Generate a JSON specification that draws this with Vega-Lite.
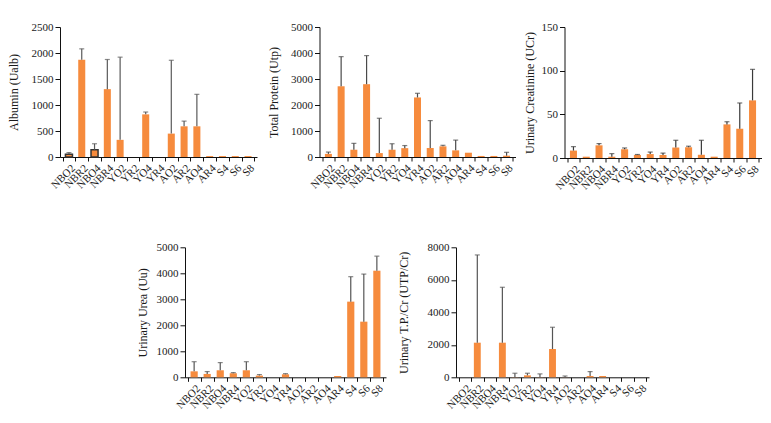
{
  "$schema": "https://vega.github.io/schema/vega-lite/v6.json",
  "padding": {"left": 7, "top": 21, "right": 5, "bottom": 5},
  "background": "white",
  "datasets": {
    "d": [
      {"panel": "alb", "cat": "NBO2", "mean": 55, "hi": 85},
      {"panel": "alb", "cat": "NBR2", "mean": 1870, "hi": 2080},
      {"panel": "alb", "cat": "NBO4", "mean": 140, "hi": 255},
      {"panel": "alb", "cat": "NBR4", "mean": 1305, "hi": 1875},
      {"panel": "alb", "cat": "YO2", "mean": 330, "hi": 1920},
      {"panel": "alb", "cat": "YR2", "mean": 0, "hi": null},
      {"panel": "alb", "cat": "YO4", "mean": 820, "hi": 865},
      {"panel": "alb", "cat": "YR4", "mean": 0, "hi": null},
      {"panel": "alb", "cat": "AO2", "mean": 450, "hi": 1860},
      {"panel": "alb", "cat": "AR2", "mean": 590, "hi": 690},
      {"panel": "alb", "cat": "AO4", "mean": 590, "hi": 1205},
      {"panel": "alb", "cat": "AR4", "mean": 18, "hi": null},
      {"panel": "alb", "cat": "S4", "mean": 18, "hi": null},
      {"panel": "alb", "cat": "S6", "mean": 18, "hi": null},
      {"panel": "alb", "cat": "S8", "mean": 18, "hi": null},
      {"panel": "tp", "cat": "NBO2", "mean": 120, "hi": 190},
      {"panel": "tp", "cat": "NBR2", "mean": 2720, "hi": 3860},
      {"panel": "tp", "cat": "NBO4", "mean": 280, "hi": 525},
      {"panel": "tp", "cat": "NBR4", "mean": 2800, "hi": 3900},
      {"panel": "tp", "cat": "YO2", "mean": 150, "hi": 1490},
      {"panel": "tp", "cat": "YR2", "mean": 280, "hi": 510},
      {"panel": "tp", "cat": "YO4", "mean": 340, "hi": 440},
      {"panel": "tp", "cat": "YR4", "mean": 2290, "hi": 2450},
      {"panel": "tp", "cat": "AO2", "mean": 345, "hi": 1400},
      {"panel": "tp", "cat": "AR2", "mean": 410, "hi": 450},
      {"panel": "tp", "cat": "AO4", "mean": 255, "hi": 650},
      {"panel": "tp", "cat": "AR4", "mean": 165, "hi": null},
      {"panel": "tp", "cat": "S4", "mean": 40, "hi": null},
      {"panel": "tp", "cat": "S6", "mean": 40, "hi": null},
      {"panel": "tp", "cat": "S8", "mean": 50, "hi": 180},
      {"panel": "cr", "cat": "NBO2", "mean": 8.5, "hi": 13},
      {"panel": "cr", "cat": "NBR2", "mean": 1.5, "hi": null},
      {"panel": "cr", "cat": "NBO4", "mean": 14.5, "hi": 16.5},
      {"panel": "cr", "cat": "NBR4", "mean": 1.5, "hi": 5},
      {"panel": "cr", "cat": "YO2", "mean": 10, "hi": 11.5},
      {"panel": "cr", "cat": "YR2", "mean": 3.5, "hi": 4},
      {"panel": "cr", "cat": "YO4", "mean": 4.5, "hi": 6.8},
      {"panel": "cr", "cat": "YR4", "mean": 3.5, "hi": 5.6},
      {"panel": "cr", "cat": "AO2", "mean": 12, "hi": 20.3},
      {"panel": "cr", "cat": "AR2", "mean": 12.3, "hi": 13.5},
      {"panel": "cr", "cat": "AO4", "mean": 3.7, "hi": 20.3},
      {"panel": "cr", "cat": "AR4", "mean": 1.5, "hi": null},
      {"panel": "cr", "cat": "S4", "mean": 38.5, "hi": 41.5},
      {"panel": "cr", "cat": "S6", "mean": 33.5, "hi": 63},
      {"panel": "cr", "cat": "S8", "mean": 66, "hi": 101.5},
      {"panel": "urea", "cat": "NBO2", "mean": 230, "hi": 600},
      {"panel": "urea", "cat": "NBR2", "mean": 130, "hi": 220},
      {"panel": "urea", "cat": "NBO4", "mean": 270, "hi": 565},
      {"panel": "urea", "cat": "NBR4", "mean": 155, "hi": 180},
      {"panel": "urea", "cat": "YO2", "mean": 270, "hi": 600},
      {"panel": "urea", "cat": "YR2", "mean": 65, "hi": 105},
      {"panel": "urea", "cat": "YO4", "mean": 0, "hi": null},
      {"panel": "urea", "cat": "YR4", "mean": 115, "hi": 140},
      {"panel": "urea", "cat": "AO2", "mean": 0, "hi": null},
      {"panel": "urea", "cat": "AR2", "mean": 0, "hi": null},
      {"panel": "urea", "cat": "AO4", "mean": 0, "hi": null},
      {"panel": "urea", "cat": "AR4", "mean": 50, "hi": null},
      {"panel": "urea", "cat": "S4", "mean": 2910, "hi": 3870},
      {"panel": "urea", "cat": "S6", "mean": 2140, "hi": 3970},
      {"panel": "urea", "cat": "S8", "mean": 4100, "hi": 4660},
      {"panel": "tpcr", "cat": "NBO2", "mean": 0, "hi": null},
      {"panel": "tpcr", "cat": "NBR2", "mean": 2130, "hi": 7530},
      {"panel": "tpcr", "cat": "NBO4", "mean": 0, "hi": null},
      {"panel": "tpcr", "cat": "NBR4", "mean": 2130, "hi": 5540},
      {"panel": "tpcr", "cat": "YO2", "mean": 10, "hi": 250},
      {"panel": "tpcr", "cat": "YR2", "mean": 120, "hi": 250},
      {"panel": "tpcr", "cat": "YO4", "mean": 10, "hi": 210},
      {"panel": "tpcr", "cat": "YR4", "mean": 1740, "hi": 3080},
      {"panel": "tpcr", "cat": "AO2", "mean": 5, "hi": 80},
      {"panel": "tpcr", "cat": "AR2", "mean": 0, "hi": null},
      {"panel": "tpcr", "cat": "AO4", "mean": 80, "hi": 350},
      {"panel": "tpcr", "cat": "AR4", "mean": 80, "hi": null},
      {"panel": "tpcr", "cat": "S4", "mean": 0, "hi": null},
      {"panel": "tpcr", "cat": "S6", "mean": 0, "hi": null},
      {"panel": "tpcr", "cat": "S8", "mean": 0, "hi": null}
    ]
  },
  "data": {"name": "d"},
  "bounds": "flush",
  "spacing": 220.3,
  "vconcat": [
    {
      "bounds": "flush",
      "spacing": 62.5,
      "hconcat": [
        {
          "width": 197, "height": 130,
          "transform": [{"filter": "datum.panel === 'alb'"}],
          "encoding": {"x": {"field": "cat", "type": "nominal", "scale": {"domain": ["NBO2","NBR2","NBO4","NBR4","YO2","YR2","YO4","YR4","AO2","AR2","AO4","AR4","S4","S6","S8"], "paddingInner": 0, "paddingOuter": 0.2}, "axis": {"title": null, "labelAngle": -45, "tickBand": "extent"}}},
          "layer": [
            {"mark": {"type": "bar", "color": "#F68B3D", "width": {"band": 0.55}, "strokeWidth": 1.5},
             "encoding": {
               "y": {"field": "mean", "type": "quantitative", "scale": {"domain": [0, 2500], "nice": false}, "axis": {"title": "Albumin (Ualb)", "values": [0, 500, 1000, 1500, 2000, 2500], "titlePadding": 10.5}},
               "stroke": {"condition": {"test": "datum.cat === 'NBO2' || datum.cat === 'NBO4'", "value": "#333333"}, "value": null}
             }},
            {"transform": [{"filter": "isValid(datum.hi)"}], "mark": {"type": "rule", "color": "#5a5a5a", "strokeWidth": 1.2}, "encoding": {"y": {"field": "mean", "type": "quantitative", "axis": {"title": "Albumin (Ualb)", "values": [0, 500, 1000, 1500, 2000, 2500], "titlePadding": 10.5}}, "y2": {"field": "hi"}}},
            {"transform": [{"filter": "isValid(datum.hi)"}], "mark": {"type": "tick", "color": "#5a5a5a", "size": 5, "thickness": 1.2}, "encoding": {"y": {"field": "hi", "type": "quantitative", "axis": {"title": "Albumin (Ualb)", "values": [0, 500, 1000, 1500, 2000, 2500], "titlePadding": 10.5}}}}
          ]
        },
        {
          "bounds": "flush",
          "spacing": 49,
          "hconcat": [
            {
              "width": 196, "height": 130,
              "transform": [{"filter": "datum.panel === 'tp'"}],
              "encoding": {"x": {"field": "cat", "type": "nominal", "scale": {"domain": ["NBO2","NBR2","NBO4","NBR4","YO2","YR2","YO4","YR4","AO2","AR2","AO4","AR4","S4","S6","S8"], "paddingInner": 0, "paddingOuter": 0.2}, "axis": {"title": null, "labelAngle": -45, "tickBand": "extent"}}},
              "layer": [
                {"mark": {"type": "bar", "color": "#F68B3D", "width": {"band": 0.55}},
                 "encoding": {"y": {"field": "mean", "type": "quantitative", "scale": {"domain": [0, 5000], "nice": false}, "axis": {"title": "Total Protein (Utp)", "values": [0, 1000, 2000, 3000, 4000, 5000], "titlePadding": 10}}}},
                {"transform": [{"filter": "isValid(datum.hi)"}], "mark": {"type": "rule", "color": "#4a4a4a", "strokeWidth": 1.2}, "encoding": {"y": {"field": "mean", "type": "quantitative", "axis": {"title": "Total Protein (Utp)", "values": [0, 1000, 2000, 3000, 4000, 5000], "titlePadding": 10}}, "y2": {"field": "hi"}}},
                {"transform": [{"filter": "isValid(datum.hi)"}], "mark": {"type": "tick", "color": "#4a4a4a", "size": 5, "thickness": 1.2}, "encoding": {"y": {"field": "hi", "type": "quantitative", "axis": {"title": "Total Protein (Utp)", "values": [0, 1000, 2000, 3000, 4000, 5000], "titlePadding": 10}}}}
              ]
            },
            {
              "width": 197, "height": 131,
              "transform": [{"filter": "datum.panel === 'cr'"}],
              "encoding": {"x": {"field": "cat", "type": "nominal", "scale": {"domain": ["NBO2","NBR2","NBO4","NBR4","YO2","YR2","YO4","YR4","AO2","AR2","AO4","AR4","S4","S6","S8"], "paddingInner": 0, "paddingOuter": 0.2}, "axis": {"title": null, "labelAngle": -45, "tickBand": "extent"}}},
              "layer": [
                {"mark": {"type": "bar", "color": "#F68B3D", "width": {"band": 0.55}},
                 "encoding": {"y": {"field": "mean", "type": "quantitative", "scale": {"domain": [0, 150], "nice": false}, "axis": {"title": "Urinary Creatinine (UCr)", "values": [0, 50, 100, 150], "titlePadding": 5}}}},
                {"transform": [{"filter": "isValid(datum.hi)"}], "mark": {"type": "rule", "color": "#3a3a3a", "strokeWidth": 1.2}, "encoding": {"y": {"field": "mean", "type": "quantitative", "axis": {"title": "Urinary Creatinine (UCr)", "values": [0, 50, 100, 150], "titlePadding": 5}}, "y2": {"field": "hi"}}},
                {"transform": [{"filter": "isValid(datum.hi)"}], "mark": {"type": "tick", "color": "#3a3a3a", "size": 5, "thickness": 1.2}, "encoding": {"y": {"field": "hi", "type": "quantitative", "axis": {"title": "Urinary Creatinine (UCr)", "values": [0, 50, 100, 150], "titlePadding": 5}}}}
              ]
            }
          ]
        }
      ]
    },
    {
      "bounds": "flush",
      "spacing": 28,
      "hconcat": [
        {"width": 96.5, "height": 130, "data": {"values": [{}]}, "mark": {"type": "text", "text": ""}},
        {
          "bounds": "flush",
          "spacing": 70,
          "hconcat": [
            {
              "width": 201, "height": 130,
              "transform": [{"filter": "datum.panel === 'urea'"}],
              "encoding": {"x": {"field": "cat", "type": "nominal", "scale": {"domain": ["NBO2","NBR2","NBO4","NBR4","YO2","YR2","YO4","YR4","AO2","AR2","AO4","AR4","S4","S6","S8"], "paddingInner": 0, "paddingOuter": 0.2}, "axis": {"title": null, "labelAngle": -45, "tickBand": "extent"}}},
              "layer": [
                {"mark": {"type": "bar", "color": "#F68B3D", "width": {"band": 0.55}},
                 "encoding": {"y": {"field": "mean", "type": "quantitative", "scale": {"domain": [0, 5000], "nice": false}, "axis": {"title": "Urinary Urea (Uu)", "values": [0, 1000, 2000, 3000, 4000, 5000], "titlePadding": 7}}}},
                {"transform": [{"filter": "isValid(datum.hi)"}], "mark": {"type": "rule", "color": "#555555", "strokeWidth": 1.2}, "encoding": {"y": {"field": "mean", "type": "quantitative", "axis": {"title": "Urinary Urea (Uu)", "values": [0, 1000, 2000, 3000, 4000, 5000], "titlePadding": 7}}, "y2": {"field": "hi"}}},
                {"transform": [{"filter": "isValid(datum.hi)"}], "mark": {"type": "tick", "color": "#555555", "size": 5, "thickness": 1.2}, "encoding": {"y": {"field": "hi", "type": "quantitative", "axis": {"title": "Urinary Urea (Uu)", "values": [0, 1000, 2000, 3000, 4000, 5000], "titlePadding": 7}}}}
              ]
            },
            {
              "width": 193, "height": 130,
              "transform": [{"filter": "datum.panel === 'tpcr'"}],
              "encoding": {"x": {"field": "cat", "type": "nominal", "scale": {"domain": ["NBO2","NBR2","NBO4","NBR4","YO2","YR2","YO4","YR4","AO2","AR2","AO4","AR4","S4","S6","S8"], "paddingInner": 0, "paddingOuter": 0.2}, "axis": {"title": null, "labelAngle": -45, "tickBand": "extent"}}},
              "layer": [
                {"mark": {"type": "bar", "color": "#F68B3D", "width": {"band": 0.55}},
                 "encoding": {"y": {"field": "mean", "type": "quantitative", "scale": {"domain": [0, 8000], "nice": false}, "axis": {"title": "Urinary T.P./Cr (UTP/Cr)", "values": [0, 2000, 4000, 6000, 8000], "titlePadding": 17}}}},
                {"transform": [{"filter": "isValid(datum.hi)"}], "mark": {"type": "rule", "color": "#555555", "strokeWidth": 1.2}, "encoding": {"y": {"field": "mean", "type": "quantitative", "axis": {"title": "Urinary T.P./Cr (UTP/Cr)", "values": [0, 2000, 4000, 6000, 8000], "titlePadding": 17}}, "y2": {"field": "hi"}}},
                {"transform": [{"filter": "isValid(datum.hi)"}], "mark": {"type": "tick", "color": "#555555", "size": 5, "thickness": 1.2}, "encoding": {"y": {"field": "hi", "type": "quantitative", "axis": {"title": "Urinary T.P./Cr (UTP/Cr)", "values": [0, 2000, 4000, 6000, 8000], "titlePadding": 17}}}}
              ]
            }
          ]
        }
      ]
    }
  ],
  "config": {
    "font": "Liberation Serif",
    "view": {"stroke": null},
    "axis": {
      "domainColor": "#111111",
      "tickColor": "#111111",
      "labelColor": "#1a1a1a",
      "titleColor": "#1a1a1a",
      "labelFont": "Liberation Serif",
      "titleFont": "Liberation Serif",
      "labelFontSize": 11,
      "titleFontSize": 12,
      "titleFontWeight": "normal",
      "grid": false,
      "tickSize": 5,
      "labelPadding": 2
    },
    "axisY": {"format": "d", "labelOverlap": false},
    "axisX": {"tickSize": 4, "labelPadding": 1, "labelOverlap": false}
  }
}
